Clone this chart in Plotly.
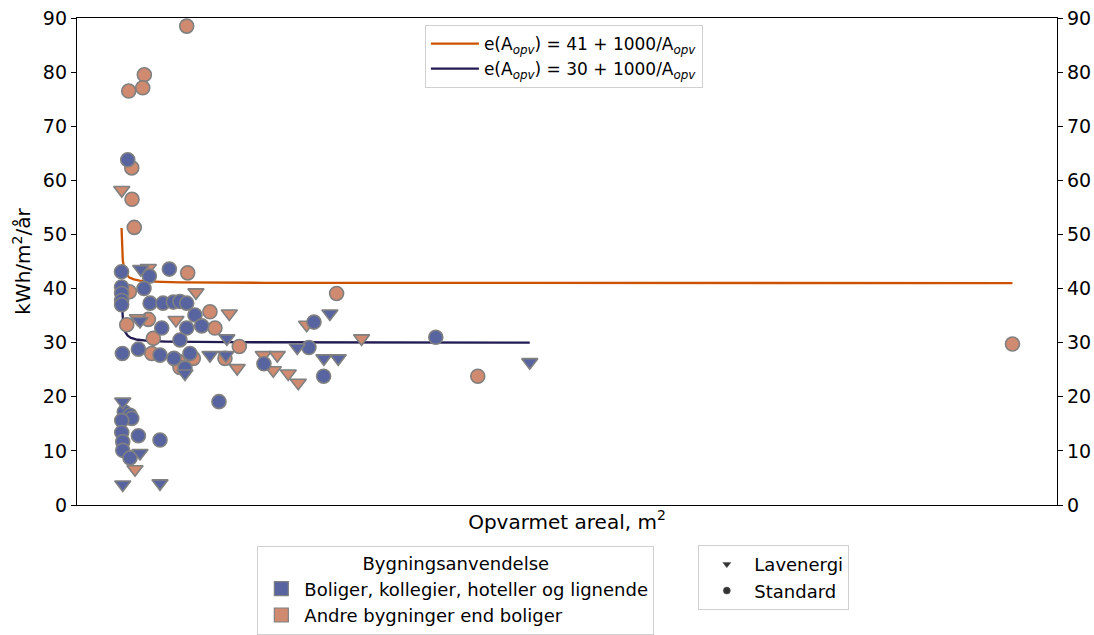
import numpy as np
import plotly.graph_objects as go

# Heated floor area (m2) and energy use (kWh/m2/year) per building group
bolig_std_areal = [780, 98, 3160, 5360, 100, 110, 110, 110, 2570, 3240, 4660,
                   5800, 6530, 7270, 8180, 21280, 4520, 7270, 8920, 6530, 190,
                   1950, 4330, 5870, 7630, 7080, 15770, 20720, 22340, 10820,
                   400, 1030, 1220, 120, 120, 230, 230, 1950, 4330, 1030,
                   34690]
bolig_std_e = [63.8, 43.1, 42.3, 43.6, 40.3, 39.1, 37.8, 37.0, 40.0, 37.3, 37.3,
               37.5, 37.6, 37.3, 35.1, 33.8, 32.7, 32.7, 33.1, 30.5, 28.0,
               28.8, 27.7, 27.1, 28.0, 25.3, 26.1, 29.1, 23.8, 19.1,
               17.2, 16.6, 16.0, 15.6, 13.4, 11.7, 10.1, 12.8, 12.0, 8.7,
               31.0]

bolig_lav_areal = [2210, 2130, 23030, 9830, 11590, 11690, 19440, 22370, 23950,
                   7080, 230, 2130, 230, 4330, 45030]
bolig_lav_e = [43.6, 34.0, 35.4, 27.7, 27.7, 30.8, 29.1, 27.1, 27.1,
               24.3, 19.1, 9.6, 3.8, 4.0, 26.4]

andre_std_areal = [7270, 2606, 2430, 890, 1220, 1250, 1500, 7380, 956, 23770,
                   9830, 3050, 670, 10380, 3600, 13060, 3420, 6300, 6530, 8000,
                   11480, 98165, 39310]
andre_std_e = [88.5, 79.5, 77.1, 76.5, 62.3, 56.5, 51.3, 42.9, 39.4, 39.1,
               35.7, 34.3, 33.3, 32.7, 30.8, 29.3, 28.0, 26.6, 25.4, 27.1,
               27.1, 29.75, 23.8]

andre_lav_areal = [120, 3050, 8290, 1840, 6090, 11960, 20470, 12830, 15700,
                   17240, 16800, 18450, 19550, 26520, 1580]
andre_lav_e = [58.2, 43.8, 39.3, 34.5, 34.2, 35.4, 33.3, 25.3, 27.7,
               27.7, 24.9, 24.3, 22.6, 30.8, 6.6]

ticks_y = [0, 10, 20, 30, 40, 50, 60, 70, 80, 90]
niveau_standard = 41
niveau_lavenergi = 30

farve_bolig = "#5764a0"
farve_andre = "#cf8a70"
kant = "#808080"
linje_std = "#cc5200"
linje_lav = "#221b52"
font = "DejaVu Sans"

grupper = [
    (andre_std_areal, andre_std_e, farve_andre, "circle"),
    (andre_lav_areal, andre_lav_e, farve_andre, "triangle-down"),
    (bolig_std_areal, bolig_std_e, farve_bolig, "circle"),
    (bolig_lav_areal, bolig_lav_e, farve_bolig, "triangle-down"),
]

fig = go.Figure()

# requirement curves e(A) = niveau + 1000/A over each class's area span
a_std = bolig_std_areal + andre_std_areal
a_lav = bolig_lav_areal + andre_lav_areal
for niveau, spand, col in [(niveau_standard, a_std, linje_std),
                           (niveau_lavenergi, a_lav, linje_lav)]:
    a = np.geomspace(min(spand), max(spand), 600)
    fig.add_trace(go.Scatter(
        x=a, y=niveau + 1000 / a, mode="lines",
        line=dict(color=col, width=2.3),
        name=f"e(A<sub><i>opv</i></sub>) = {niveau} + 1000/A<sub><i>opv</i></sub>",
        legend="legend",
    ))

# measured buildings
for ax, ey, col, sym in grupper:
    fig.add_trace(go.Scatter(
        x=ax, y=ey, mode="markers", showlegend=False,
        marker=dict(color=col, symbol=sym, size=14,
                    line=dict(color=kant, width=1.6)),
    ))

# legend entries for building use
for col, label in [(farve_bolig, "Boliger, kollegier, hoteller og lignende"),
                   (farve_andre, "Andre bygninger end boliger")]:
    fig.add_trace(go.Scatter(
        x=[None], y=[None], mode="markers", name=label, legend="legend2",
        marker=dict(symbol="square", size=14, color=col,
                    line=dict(color=kant, width=1.2)),
    ))

# legend entries for building class
for sym, label in [("triangle-down", "Lavenergi"), ("circle", "Standard")]:
    fig.add_trace(go.Scatter(
        x=[None], y=[None], mode="markers", name=label, legend="legend3",
        marker=dict(symbol=sym, size=7, color="#333333",
                    line=dict(color="#555555", width=0.5)),
    ))

# twin axis carrying the right-hand tick labels
fig.add_trace(go.Scatter(x=[None], y=[None], yaxis="y2", showlegend=False,
                         hoverinfo="skip"))

alle = a_std + a_lav
xmin, xmax = min(alle), max(alle)
pad = 0.05 * (xmax - xmin)
yrange = [0, 90]

# the top gap is made with the y domain (margin.t = 0 keeps legends from
# adding extra auto-margin padding)
H_area = 635 - 130
top_gap = 18
ydom = [0, 1 - top_gap / H_area]

def py(pix):
    """paper y for a pixel row measured from the top of the figure"""
    return (H_area - pix) / H_area

fig.update_layout(
    width=1094, height=635,
    margin=dict(l=77, r=37, t=0, b=130),
    paper_bgcolor="white", plot_bgcolor="white",
    font=dict(family=font, size=18, color="black"),
    xaxis=dict(
        range=[xmin - pad, xmax + pad], showticklabels=False, ticks="",
        showgrid=False, zeroline=False, showline=True, linecolor="black",
        linewidth=1.3, mirror=True, automargin=False,
        title=dict(text="Opvarmet areal, m<sup>2</sup>", font=dict(size=20),
                   standoff=9),
    ),
    yaxis=dict(
        domain=ydom,
        range=yrange, tickvals=ticks_y, ticks="outside", ticklen=5,
        tickcolor="black", showgrid=False, zeroline=False, showline=True,
        linecolor="black", linewidth=1.3, tickfont=dict(size=19),
        automargin=False,
        title=dict(text="kWh/m<sup>2</sup>/år", font=dict(size=20), standoff=6),
    ),
    yaxis2=dict(
        domain=ydom,
        range=yrange, tickvals=ticks_y, ticks="outside", ticklen=5,
        tickcolor="black", overlaying="y", side="right", showgrid=False,
        zeroline=False, showline=True, linecolor="black", linewidth=1.3,
        tickfont=dict(size=19), automargin=False,
    ),
    legend=dict(
        x=0.355, y=py(25), xanchor="left", yanchor="top",
        bgcolor="white", bordercolor="#d0d0d0", borderwidth=1,
        font=dict(size=17), tracegroupgap=0, itemwidth=48,
    ),
    legend2=dict(
        x=0.184, y=py(635), xanchor="left", yanchor="bottom",
        bgcolor="white", bordercolor="#d0d0d0", borderwidth=1,
        font=dict(size=18), itemwidth=36,
        title=dict(text="Bygningsanvendelse", side="top center",
                   font=dict(size=18)),
    ),
    legend3=dict(
        x=0.634, y=py(610), xanchor="left", yanchor="bottom",
        bgcolor="white", bordercolor="#d0d0d0", borderwidth=1,
        font=dict(size=18), itemwidth=45,
    ),
)

fig.write_html("out.html")
